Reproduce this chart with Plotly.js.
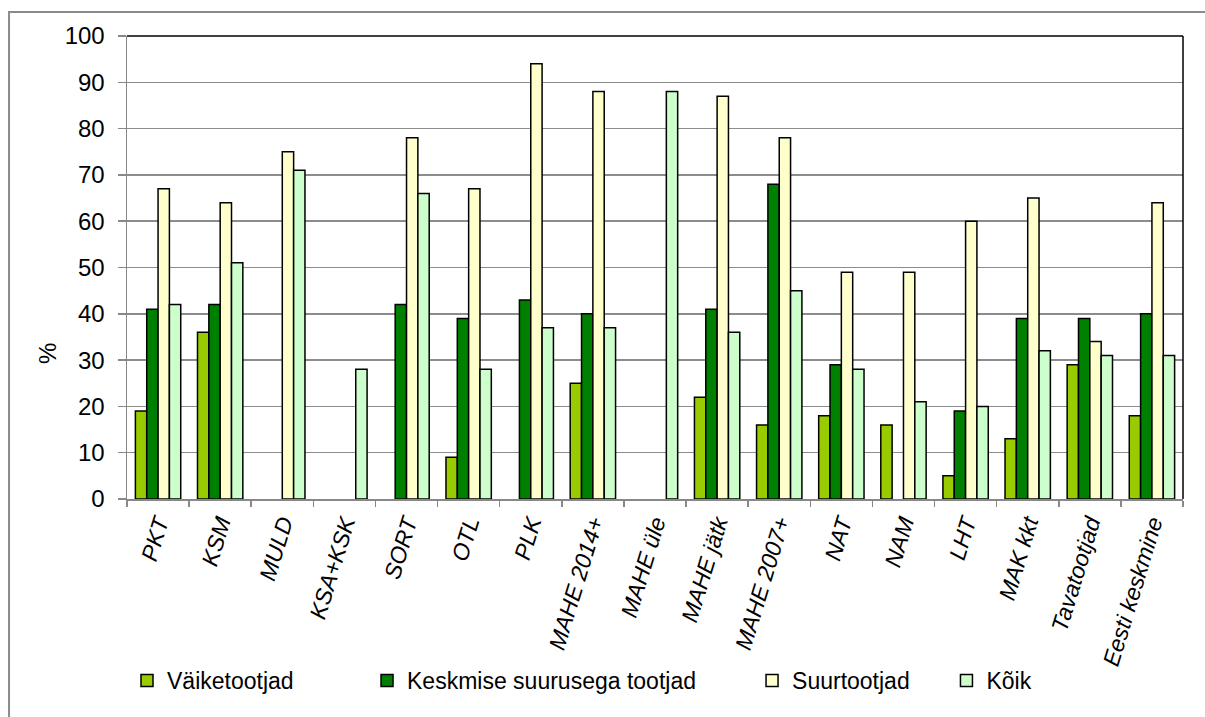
<!DOCTYPE html>
<html>
<head>
<meta charset="utf-8">
<script src="https://cdn.plot.ly/plotly-3.0.1.min.js"></script>
<style>html,body{margin:0;padding:0;background:#fff;}#chart{width:1205px;height:717px;}</style>
</head>
<body>
<div id="chart"></div>
<script>
const categories = ["PKT","KSM","MULD","KSA+KSK","SORT","OTL","PLK","MAHE 2014+","MAHE üle","MAHE jätk","MAHE 2007+","NAT","NAM","LHT","MAK kkt","Tavatootjad","Eesti keskmine"];
const vaiketootjad = [19,36,null,null,null,9,null,25,null,22,16,18,16,5,13,29,18];
const keskmised    = [41,42,null,null,42,39,43,40,null,41,68,29,null,19,39,39,40];
const suurtootjad  = [67,64,75,null,78,67,94,88,null,87,78,49,49,60,65,34,64];
const koik         = [42,51,71,28,66,28,37,37,88,36,45,28,21,20,32,31,31];
const seriesNames = ["Väiketootjad","Keskmise suurusega tootjad","Suurtootjad","Kõik"];
const yTicks = [0,10,20,30,40,50,60,70,80,90,100];

const colors = ["#99CC00","#008000","#FFFFCC","#CCFFCC"];
const seriesData = [vaiketootjad, keskmised, suurtootjad, koik];
const legendIds = ["legend","legend2","legend3","legend4"];

const traces = seriesData.map((vals, i) => ({
  type: "bar",
  name: seriesNames[i],
  x: categories,
  y: vals,
  marker: {color: colors[i], line: {color: "#000000", width: 1.5}},
  legend: legendIds[i],
  hoverinfo: "x+y+name"
}));

const fontFam = "Liberation Sans, Arial, sans-serif";
const legendBase = {orientation: "h", yanchor: "middle", y: -0.392, xanchor: "left",
  font: {family: fontFam, size: 23, color: "#000"}, bgcolor: "rgba(0,0,0,0)"};

const layout = {
  width: 1205, height: 717,
  margin: {l: 127, r: 22, t: 36, b: 218},
  paper_bgcolor: "#fff", plot_bgcolor: "#fff",
  barmode: "group", bargap: 0.27, bargroupgap: 0,
  font: {family: fontFam, color: "#000"},
  xaxis: {
    type: "category",
    showline: true, linecolor: "#888888", linewidth: 1.5,
    ticks: "outside", tickson: "boundaries", ticklen: 6, tickcolor: "#888888", tickwidth: 1.5,
    tickangle: -73,
    tickfont: {family: fontFam, size: 23, style: "italic", color: "#000"},
    showgrid: false, zeroline: false
  },
  yaxis: {
    range: [0, 100], tickvals: yTicks, ticktext: yTicks.map(String),
    showline: true, linecolor: "#888888", linewidth: 1.5,
    ticks: "outside", ticklen: 8, tickcolor: "#888888", tickwidth: 1.5,
    ticklabelstandoff: 8,
    showgrid: true, gridcolor: "#8c8c8c", gridwidth: 1.5, zeroline: false,
    tickfont: {family: fontFam, size: 24, color: "#000"}
  },
  annotations: [
    {text: "%", xref: "paper", yref: "paper", x: -0.0758, y: 0.315, xanchor: "center", yanchor: "middle",
     textangle: -90, showarrow: false, font: {family: fontFam, size: 24, color: "#000"}}
  ],
  legend: Object.assign({}, legendBase, {x: 0.0}),
  legend2: Object.assign({}, legendBase, {x: 0.2273}),
  legend3: Object.assign({}, legendBase, {x: 0.5919}),
  legend4: Object.assign({}, legendBase, {x: 0.776}),
  shapes: [
    {type: "line", xref: "paper", yref: "paper", x0: 0, x1: 1, y0: 1, y1: 1, line: {color: "#000", width: 1.5}},
    {type: "line", xref: "paper", yref: "paper", x0: 1, x1: 1, y0: 0, y1: 1, line: {color: "#000", width: 1.5}},
    {type: "rect", xref: "paper", yref: "paper", x0: -0.1117, x1: 1.2, y0: -0.8, y1: 1.0518, line: {color: "#8a8a8a", width: 2}, fillcolor: "rgba(0,0,0,0)"}
  ],
  showlegend: true
};

Plotly.newPlot("chart", traces, layout, {displayModeBar: false, staticPlot: true});
</script>
</body>
</html>
